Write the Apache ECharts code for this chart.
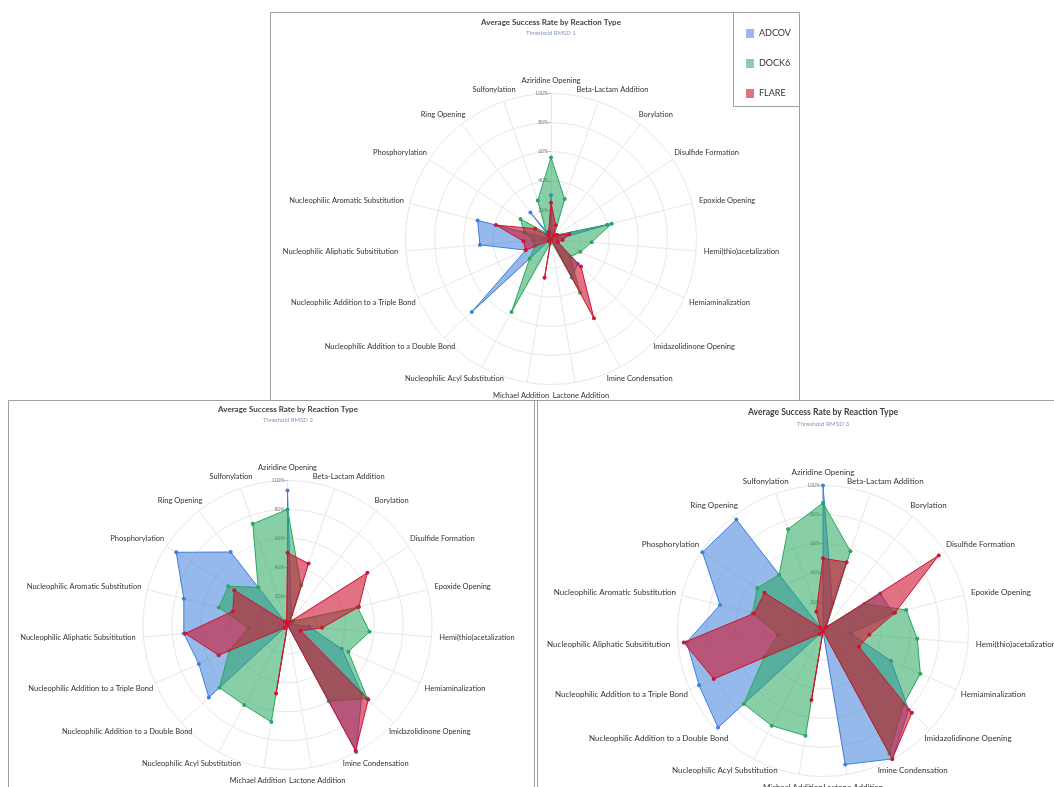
<!DOCTYPE html>
<html>
<head>
<meta charset="utf-8">
<script src="https://cdn.jsdelivr.net/npm/echarts@6/dist/echarts.min.js"></script>
<style>
  html, body { margin: 0; padding: 0; background: #fff; overflow: hidden; }
  #chart { width: 1054px; height: 787px; }
</style>
</head>
<body>
<div id="chart"></div>
<script>
// Reaction types, listed clockwise from the top of each radar
const reactionTypes = [
  'Aziridine Opening', 'Beta-Lactam Addition', 'Borylation', 'Disulfide Formation',
  'Epoxide Opening', 'Hemi(thio)acetalization', 'Hemiaminalization',
  'Imidazolidinone Opening', 'Imine Condensation', 'Lactone Addition',
  'Michael Addition', 'Nucleophilic Acyl Substitution',
  'Nucleophilic Addition to a Double Bond', 'Nucleophilic Addition to a Triple Bond',
  'Nucleophilic Aliphatic Subsititution', 'Nucleophilic Aromatic Substitution',
  'Phosphorylation', 'Ring Opening', 'Sulfonylation'
];
const methods = ['ADCOV', 'DOCK6', 'FLARE'];
const subtitles = ['Threshold RMSD 1', 'Threshold RMSD 2', 'Threshold RMSD 3'];
const chartTitle = 'Average Success Rate by Reaction Type';

// Average success rate (%) per reaction type, same order as reactionTypes
const adcovRmsd1 = [30, 3, 2, 5, 40, 4, 5, 25, 30, 0, 0, 0, 74, 19, 49, 52, 0, 23, 3];
const dock6Rmsd1 = [56, 29, 4, 5, 43, 28, 22, 18, 42, 2, 3, 57, 20, 12, 12, 19, 25, 5, 28];
const flareRmsd1 = [25, 10, 3, 5, 13, 8, 5, 28, 62, 0, 27, 0, 2, 19, 19, 39, 13, 3, 5];

const adcovRmsd2 = [93, 8, 3, 2, 3, 15, 41, 70, 100, 0, 0, 0, 74, 67, 72, 74, 92, 64, 0];
const dock6Rmsd2 = [80, 29, 2, 5, 50, 57, 46, 75, 60, 0, 68, 63, 64, 44, 27, 49, 49, 33, 74];
const flareRmsd2 = [50, 45, 3, 66, 51, 24, 10, 76, 99, 0, 48, 0, 3, 52, 71, 39, 44, 3, 2];

const adcovRmsd3 = [100, 20, 3, 47, 50, 19, 51, 80, 100, 93, 0, 0, 98, 93, 94, 73, 99, 97, 0];
const dock6Rmsd3 = [88, 58, 4, 34, 59, 65, 73, 75, 96, 0, 73, 74, 74, 44, 31, 50, 54, 49, 74];
const flareRmsd3 = [50, 50, 3, 95, 51, 32, 27, 83, 100, 0, 48, 0, 3, 82, 96, 49, 48, 3, 14];

const panelData = [
  [adcovRmsd1, dock6Rmsd1, flareRmsd1],
  [adcovRmsd2, dock6Rmsd2, flareRmsd2],
  [adcovRmsd3, dock6Rmsd3, flareRmsd3]
];

// Layout of the three panels (radar centre, radius, type sizes, title anchor, frame)
const panels = [
  { center: [551, 239], radius: 145.5, nameSize: 7.5, titleSize: 8, subSize: 6,
    titleX: 551, titleY: 18, frame: [270.5, 12.5, 529, 388] },
  { center: [287.5, 625], radius: 144.5, nameSize: 7.5, titleSize: 8, subSize: 6,
    titleX: 288, titleY: 405, frame: [8.5, 400.5, 526, 400] },
  { center: [823, 631], radius: 145.5, nameSize: 8, titleSize: 8.6, subSize: 6.3,
    titleX: 823, titleY: 408, frame: [537.5, 400.5, 530, 400] }
];

const lineColors = ['#3f7fdb', '#27a85e', '#cf1331'];
const fillColors = ['rgba(63,127,219,0.55)', 'rgba(39,168,94,0.55)', 'rgba(207,19,49,0.6)'];
const FONT = 'Lato, "Open Sans", sans-serif';
const NAME_GAP = 8;

// ECharts lays radar axes out counter-clockwise, so keep the first axis at the
// top and reverse the rest to read clockwise.
const order = reactionTypes.map((_, k) => (k === 0 ? 0 : reactionTypes.length - k));
const reorder = arr => order.map(i => arr[i]);

// Axis names slide smoothly from left/right alignment at the sides to centred
// at the top and bottom: each centred label is pushed outward by half its
// height along the axis (larger gap) and by the rest of its half-width
// sideways (asymmetric horizontal padding).
const measureCtx = document.createElement('canvas').getContext('2d');
function axisNameLayout(name, k, n, size) {
  measureCtx.font = size + 'px ' + FONT;
  const w = measureCtx.measureText(name).width;
  const h = size + 2;
  const a = (90 + k * 360 / n) * Math.PI / 180;
  const sx = Math.cos(a);
  const side = sx * (w - h);
  return {
    nameGap: NAME_GAP + h / 2,
    nameTextStyle: {
      align: 'center',
      verticalAlign: 'middle',
      padding: [0, side < 0 ? -side : 0, 0, side > 0 ? side : 0]
    }
  };
}

const radar = panels.map(p => ({
  center: p.center,
  radius: p.radius,
  startAngle: 90,
  shape: 'circle',
  splitNumber: 5,
  nameGap: NAME_GAP,
  axisName: { color: '#333', fontSize: p.nameSize, fontFamily: FONT },
  splitLine: { lineStyle: { color: '#e8e8e8', width: 1 } },
  splitArea: { show: false },
  axisLine: { lineStyle: { color: '#e8e8e8', width: 1 } },
  axisTick: { show: false },
  axisLabel: { show: false },
  indicator: reorder(reactionTypes).map((name, k, all) => {
    const lay = axisNameLayout(name, k, all.length, p.nameSize);
    const ind = { name: name, min: 0, max: 100, nameGap: lay.nameGap, nameTextStyle: lay.nameTextStyle };
    if (k === 0) {
      ind.axisLabel = { show: true, fontSize: 5, color: '#777', fontFamily: FONT, margin: 3,
                        formatter: v => v + '%' };
      ind.axisTick = { show: true, length: 3, lineStyle: { color: '#bbb' } };
    }
    return ind;
  })
}));

const series = [];
panelData.forEach((sets, r) => {
  sets.forEach((vals, m) => {
    series.push({
      type: 'radar',
      name: methods[m],
      radarIndex: r,
      symbol: 'circle',
      symbolSize: 4,
      lineStyle: { color: lineColors[m], width: 1 },
      itemStyle: { color: lineColors[m] },
      areaStyle: { color: fillColors[m], opacity: 1 },
      z: 2 + m,
      data: [{ value: reorder(vals), name: methods[m] }]
    });
  });
});

const title = panels.map((p, r) => ({
  text: chartTitle,
  subtext: subtitles[r],
  left: p.titleX,
  top: p.titleY,
  textAlign: 'center',
  padding: 0,
  itemGap: 4,
  textStyle: { fontSize: p.titleSize, fontWeight: 'bold', color: '#3d4249', fontFamily: FONT },
  subtextStyle: { fontSize: p.subSize, color: '#8797b8', fontFamily: FONT }
}));

const frames = panels.map(p => ({
  type: 'rect', silent: true, z: 0,
  shape: { x: p.frame[0], y: p.frame[1], width: p.frame[2], height: p.frame[3] },
  style: { fill: null, stroke: '#a0a0a0', lineWidth: 1 }
}));
frames.push({
  type: 'polyline', silent: true, z: 0,
  shape: { points: [[733.5, 12], [733.5, 106.5], [800, 106.5]] },
  style: { fill: null, stroke: '#a0a0a0', lineWidth: 1 }
});

const chart = echarts.init(document.getElementById('chart'), null, { renderer: 'canvas' });
chart.setOption({
  animation: false,
  backgroundColor: '#fff',
  title: title,
  legend: {
    orient: 'vertical',
    left: 746,
    top: 29,
    padding: 0,
    itemWidth: 8,
    itemHeight: 9,
    itemGap: 21,
    icon: 'rect',
    textStyle: { fontSize: 9, color: '#333', fontFamily: FONT },
    data: methods.map((m, i) => ({ name: m, itemStyle: { color: fillColors[i] } }))
  },
  radar: radar,
  graphic: frames,
  series: series
});
</script>
</body>
</html>
